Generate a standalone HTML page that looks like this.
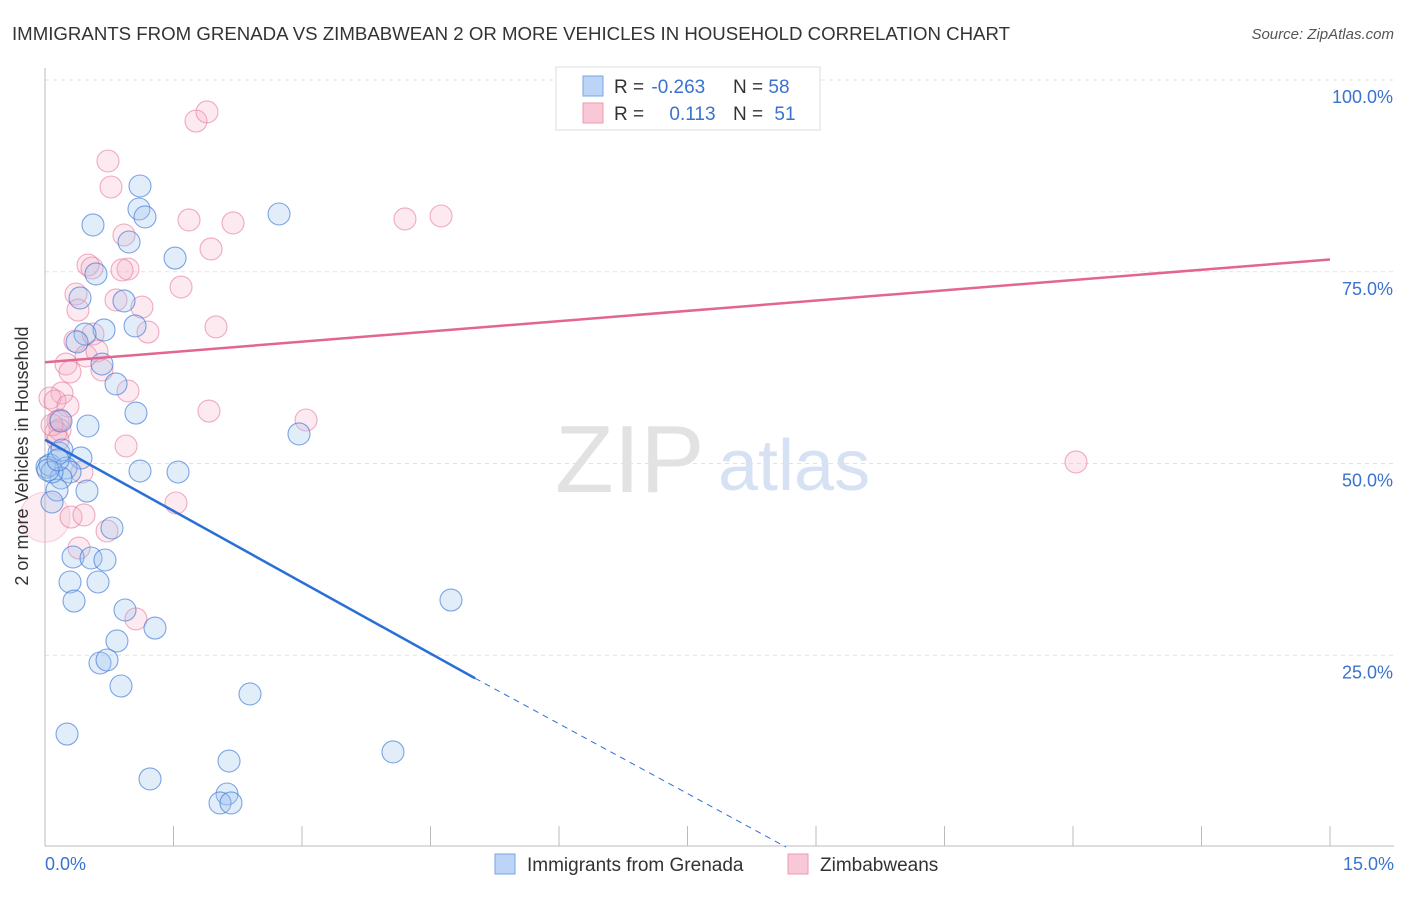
<!DOCTYPE html>
<html><head><meta charset="utf-8"><style>
body{margin:0;background:#fff;font-family:"Liberation Sans",sans-serif}
svg text{font-family:"Liberation Sans",sans-serif}
</style></head><body>
<svg width="1406" height="892" xmlns="http://www.w3.org/2000/svg">
<text x="12" y="40" font-size="18" fill="#333" textLength="998" lengthAdjust="spacingAndGlyphs">IMMIGRANTS FROM GRENADA VS ZIMBABWEAN 2 OR MORE VEHICLES IN HOUSEHOLD CORRELATION CHART</text>
<text x="1394" y="39" font-size="15" fill="#555" font-style="italic" text-anchor="end">Source: ZipAtlas.com</text>
<g id="grid"></g>
<text x="555" y="492" font-size="96" fill="#e2e2e2" font-family="Liberation Serif">ZIP</text>
<text x="718" y="490" font-size="72" fill="#d6e2f3">atlas</text>
<g id="axes"></g>
<g id="pts"></g>
<g id="lines"></g>
<text x="28" y="456" font-size="18" fill="#333" text-anchor="middle" transform="rotate(-90 28 456)">2 or more Vehicles in Household</text>
<text x="45" y="870" font-size="18" fill="#3a72d0">0.0%</text>
<text x="1394" y="870" font-size="18" fill="#3a72d0" text-anchor="end">15.0%</text>
<g>
<rect x="556" y="67" width="264" height="63" fill="#fff" stroke="#ddd"/>
<rect x="583" y="76" width="20" height="20" fill="#bcd4f6" stroke="#7aa6e6"/>
<rect x="583" y="103" width="20" height="20" fill="#f9c8d6" stroke="#eb9ab2"/>
<text x="614" y="93" font-size="19" fill="#333">R = <tspan fill="#3a72d0" dx="2">-0.263</tspan></text>
<text x="733" y="93" font-size="19" fill="#333">N = <tspan fill="#3a72d0">58</tspan></text>
<text x="614" y="120" font-size="19" fill="#333">R = <tspan fill="#3a72d0" dx="20">0.113</tspan></text>
<text x="733" y="120" font-size="19" fill="#333">N = <tspan fill="#3a72d0" dx="6">51</tspan></text>
</g>
<g>
<rect x="495" y="854" width="20" height="20" fill="#bcd4f6" stroke="#7aa6e6"/>
<text x="527" y="871" font-size="19" fill="#333">Immigrants from Grenada</text>
<rect x="788" y="854" width="20" height="20" fill="#f9c8d6" stroke="#eb9ab2"/>
<text x="820" y="871" font-size="19" fill="#333">Zimbabweans</text>
</g>
</svg>
<script>
const yTicks=[25,50,75,100];
const yTickLabels=["25.0%","50.0%","75.0%","100.0%"];
const xTicks=[0,1.5,3,4.5,6,7.5,9,10.5,12,13.5,15];
const bluePx=[[140,186],[139,209],[145,217],[93,225],[279,214],[129,242],[175,258],[96,274],[80,298],[124,301],[104,330],[135,326],[85,334],[77,342],[102,364],[116,384],[136,413],[88,426],[61,421],[299,434],[81,458],[47,467],[59,453],[50,465],[66,468],[70,472],[140,471],[178,472],[61,478],[87,491],[57,490],[52,502],[112,528],[73,557],[91,558],[105,560],[70,582],[98,582],[74,601],[125,610],[155,628],[117,641],[100,663],[107,660],[121,686],[250,694],[451,600],[393,752],[67,734],[150,779],[229,761],[227,794],[220,803],[231,803],[52,472],[48,470],[62,450],[58,460]];
const pinkPx=[[196,121],[207,112],[108,161],[111,187],[189,220],[233,223],[405,219],[441,216],[124,235],[211,249],[88,265],[92,268],[128,269],[122,270],[181,287],[76,294],[116,300],[142,307],[78,310],[148,332],[216,327],[75,341],[93,334],[86,356],[97,351],[66,364],[102,370],[70,372],[62,393],[128,391],[50,398],[55,401],[68,406],[209,411],[306,420],[58,421],[60,430],[56,432],[126,446],[1076,462],[82,472],[71,517],[84,515],[176,503],[107,531],[79,548],[136,619],[60,420],[52,425],[58,440]];
const blueX=bluePx.map(p=>+((p[0]-45)/1285*15).toFixed(3));
const blueY=bluePx.map(p=>+((847-p[1])/767*100).toFixed(2));
const pinkX=pinkPx.map(p=>+((p[0]-45)/1285*15).toFixed(3));
const pinkY=pinkPx.map(p=>+((847-p[1])/767*100).toFixed(2));
const bigPink=[0,43];
const blueTrend=[[0,53.1],[5.02,22.0],[8.65,0]];
const pinkTrend=[[0,63.2],[15,76.6]];
const NS="http://www.w3.org/2000/svg";
const sx=v=>45+v/15*1285, sy=v=>847-v/100*767;
function mk(t,a,p){const e=document.createElementNS(NS,t);for(const k in a)e.setAttribute(k,a[k]);p.appendChild(e);return e;}
const grid=document.getElementById('grid'),axes=document.getElementById('axes'),pts=document.getElementById('pts'),lines=document.getElementById('lines');
yTicks.forEach((v,i)=>{
 const l=mk('line',{x1:45,x2:1394,y1:sy(v),y2:sy(v),stroke:'#e2e2e2','stroke-dasharray':'4,4'},grid);
 
 
 const t=mk('text',{x:1393,y:sy(v)+23,'font-size':18,fill:'#3a72d0','text-anchor':'end'},axes);
 t.textContent=yTickLabels[i];
 
 
});
const ya=mk('line',{x1:45,x2:45,y1:68,y2:846,stroke:'#bbb'},axes);


const xa=mk('line',{x1:45,x2:1394,y1:846,y2:846,stroke:'#bbb'},axes);


xTicks.forEach(v=>{
 const t=mk('line',{x1:sx(v),x2:sx(v),y1:826,y2:846,stroke:'#bbb'},axes);
 
 
});
const bp=mk('circle',{cx:sx(bigPink[0]),cy:sy(bigPink[1]),r:25,fill:'rgba(245,170,195,0.22)',stroke:'rgba(230,130,160,0.35)'},pts);


pinkX.forEach((x,i)=>{
 const c=mk('circle',{cx:sx(x),cy:sy(pinkY[i]),r:11,fill:'rgba(245,170,195,0.25)',stroke:'rgba(230,120,155,0.6)','stroke-width':1.1},pts);
 
 
});
blueX.forEach((x,i)=>{
 const c=mk('circle',{cx:sx(x),cy:sy(blueY[i]),r:11,fill:'rgba(160,195,240,0.3)',stroke:'rgba(60,120,215,0.65)','stroke-width':1.1},pts);
 
 
});
const pl=mk('line',{x1:sx(pinkTrend[0][0]),y1:sy(pinkTrend[0][1]),x2:sx(pinkTrend[1][0]),y2:sy(pinkTrend[1][1]),stroke:'#e26690','stroke-width':2.5},lines);


const bl=mk('line',{x1:sx(blueTrend[0][0]),y1:sy(blueTrend[0][1]),x2:sx(blueTrend[1][0]),y2:sy(blueTrend[1][1]),stroke:'#2a6fd6','stroke-width':2.5},lines);


const bd=mk('line',{x1:sx(blueTrend[1][0]),y1:sy(blueTrend[1][1]),x2:sx(blueTrend[2][0]),y2:sy(blueTrend[2][1]),stroke:'#2a6fd6','stroke-width':1,'stroke-dasharray':'6,5'},lines);


</script>
</body></html>
